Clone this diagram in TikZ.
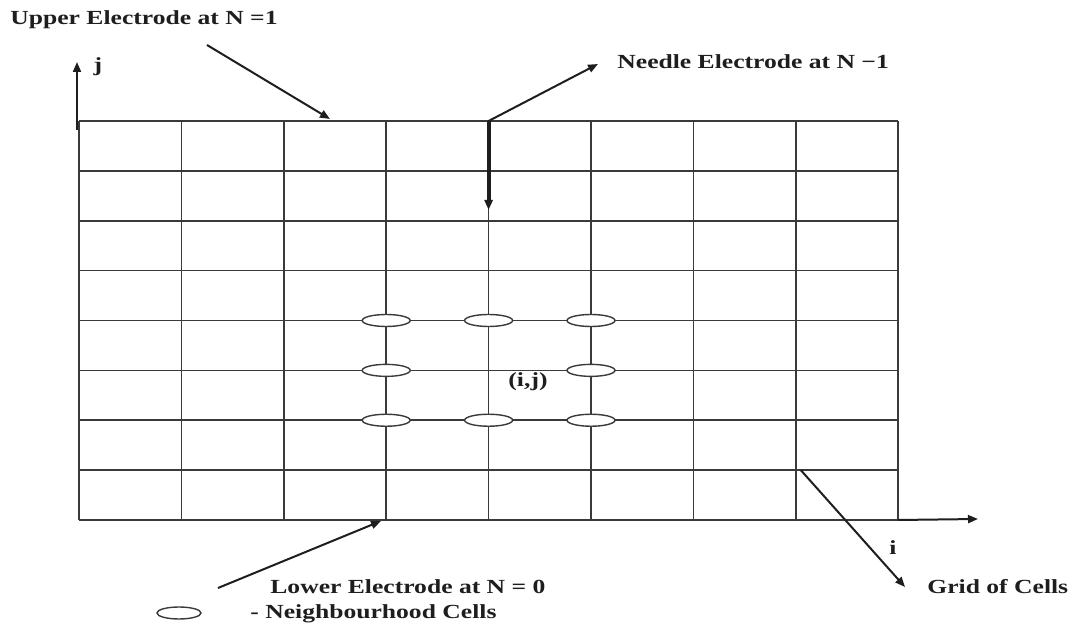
\documentclass[tikz,border=0pt]{standalone}
\usepackage{fontspec}
\setmainfont{Liberation Serif}
\newfontfamily\lblfont[FakeStretch=1.28]{Liberation Serif}
\usetikzlibrary{positioning, shapes.geometric, arrows.meta, calc}
\definecolor{inkdark}{HTML}{1E1E1E}
\definecolor{gridgray}{HTML}{3A3A3A}
\tikzset{
  lbl/.style={text=inkdark, inner sep=0pt, font=\lblfont\bfseries\fontsize{10}{12}\selectfont},
  ptr/.style={inkdark, line width=1pt, -{Triangle[length=5pt, width=4pt]}},
  gridline/.style={gridgray, line width=0.8pt},
  nbcell/.style={ellipse, draw=gridgray, fill=white, line width=0.7pt,
    minimum width=24pt, minimum height=6pt, inner sep=0pt}
}

\begin{document}
\begin{tikzpicture}[x=0.5pt, y=-0.5pt]
    \useasboundingbox (0,0) rectangle (1073,630);
    % grid of cells, 8 x 8
    \foreach \c in {0,...,8}
      \foreach \r in {0,...,8}
        \coordinate (p\c\r) at ({79+\c*102.4},{121+\r*49.875});
    \foreach \c in {0,...,8}
      \draw[gridline] (p\c0) -- (p\c8);
    \foreach \r in {0,...,8}
      \draw[gridline] (p0\r) -- (p8\r);
    % neighbourhood cells round (i,j)
    \foreach \c/\r in {3/4,4/4,5/4,3/5,5/5,3/6,4/6,5/6}
      \node[nbcell] (nb\c\r) at (p\c\r) {};
    \node[lbl] (cellij) at (528,382) {(i,j)};
    % axes
    \coordinate (jfoot) at (77,130);
    \coordinate (jtip) at (77,62);
    \draw[ptr] (jfoot) -- (jtip);
    \node[lbl] (jlbl) at (98,67) {j};
    \coordinate (itip) at (978,519);
    \draw[ptr] (p88) -- (itip);
    \node[lbl] (ilbl) at (893,548) {i};
    % electrodes
    \node[lbl, anchor=west] (upper) at (10,20) {Upper Electrode at N =1};
    \coordinate (upperfrom) at (207,45);
    \coordinate (upperto) at (330,119);
    \draw[ptr] (upperfrom) -- (upperto);
    \node[lbl, anchor=west] (needle) at (617,62) {Needle Electrode at N −1};
    \coordinate (needleto) at (598,64);
    \coordinate (needletip) at ($(p40)+(0,89)$);
    \draw[ptr] (p40) -- (needleto);
    \draw[ptr, line width=2pt] (p40) -- (needletip);
    \node[lbl, anchor=west] (lower) at (270,587) {Lower Electrode at N = 0};
    \coordinate (lowerfrom) at (218,588);
    \coordinate (lowerto) at (381,521);
    \draw[ptr] (lowerfrom) -- (lowerto);
    \node[lbl, anchor=west] (gridlbl) at (927,587) {Grid of Cells};
    \coordinate (gridto) at (905,587);
    \draw[ptr] ($(p77)+(5,0)$) -- (gridto);
    % legend
    \node[nbcell, minimum width=22pt] (legcell) at (179,613) {};
    \node[lbl, anchor=west] (legtxt) at (250,614) {- Neighbourhood Cells};
\end{tikzpicture}
\end{document}
